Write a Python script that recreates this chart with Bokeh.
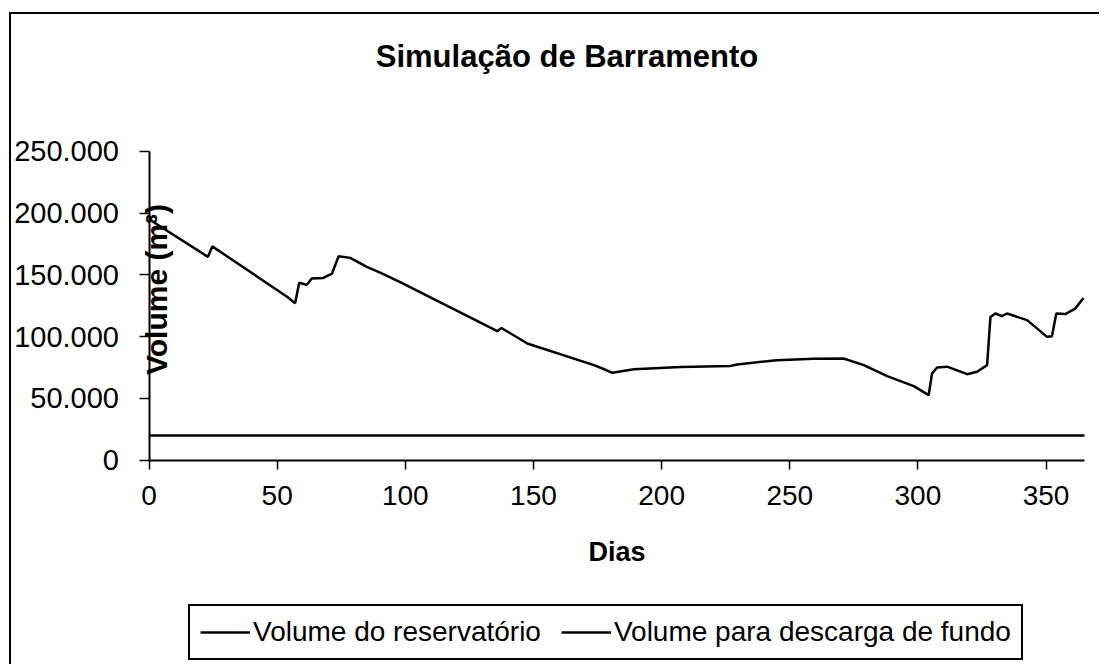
import math
from bokeh.plotting import figure
from bokeh.models import FixedTicker, Legend, LegendItem, Label, Range1d
from bokeh.embed import file_html
from bokeh.resources import INLINE

# ---------------- data ----------------
title_text = "Simulação de Barramento"
x_axis_title = "Dias"
y_axis_title = "Volume (m³)"
series_names = ["Volume do reservatório", "Volume para descarga de fundo"]

days = [0, 23, 24.7, 54, 57, 58.6, 61.6, 63.5, 68, 71.4, 74, 78.5, 85, 90.4, 98,
        135.9, 137.5, 147.6, 173.6, 176.9, 180.8, 189.2, 207.4, 226.9, 229.5, 245,
        259.4, 271, 278.9, 288, 298.4, 304.2, 305.5, 307.5, 311.4, 319.2, 323.1, 327,
        328.3, 330.2, 332.8, 334.8, 342.6, 350.4, 352.3, 354, 357.5, 361.4, 364.6]
reservoir_volume = [195000, 164500, 173000, 132000, 127000, 143500, 142000, 147000,
                    147500, 151000, 165000, 163700, 156400, 151500, 144000,
                    104400, 107000, 94400, 76900, 74200, 70700, 73600, 75500, 76300,
                    77400, 80900, 82000, 82300, 76900, 68000, 59900, 52600, 70100,
                    75000, 75700, 69600, 71500, 76900, 115900, 118700, 116500, 118700,
                    113300, 99800, 100300, 118700, 118200, 122700, 131300]

discharge_days = [0, 365]
discharge_volume = [20000, 20000]

x_ticks = [0, 50, 100, 150, 200, 250, 300, 350]
y_ticks = [0, 50000, 100000, 150000, 200000, 250000]
y_tick_labels = ["0", "50.000", "100.000", "150.000", "200.000", "250.000"]
x_bounds = (0, 365)
y_bounds = (0, 250000)

FONT = "Liberation Sans"

# ---------------- figure ----------------
# The plotting frame covers the whole canvas so that the title, the legend and the
# overlapping y-axis title can be drawn like the original; the axes sit at fixed
# locations (x = 0, y = 0) with bounds limited to the data extent.
W, H = 1100, 665
px_per_day = (1084 - 148.5) / 365.0
px_per_unit = (459.7 - 150.7) / 250000.0
x_start = -148.5 / px_per_day
x_end = (W - 148.5) / px_per_day
y_end = 250000 + 150.7 / px_per_unit
y_start = -(H - 459.7) / px_per_unit

p = figure(width=W, height=H, output_backend="svg", toolbar_location=None,
           x_range=Range1d(x_start, x_end), y_range=Range1d(y_start, y_end),
           min_border=0, min_border_left=0, min_border_right=0,
           min_border_top=0, min_border_bottom=0)
p.outline_line_color = None
p.grid.visible = False
p.background_fill_alpha = 0
p.border_fill_alpha = 0
# chart-area border (left and top edges) drawn as the page background behind the canvas
p.styles = {
    "background-color": "white",
    "background-image": "linear-gradient(black, black), linear-gradient(black, black)",
    "background-size": "2px calc(100% - 13px), calc(100% - 10px) 2px",
    "background-position": "9px 12px, 9px 12px",
    "background-repeat": "no-repeat",
}

r1 = p.line(days, reservoir_volume, line_color="black", line_width=2.5)
r2 = p.line(discharge_days, discharge_volume, line_color="black", line_width=2.5)

p.xaxis.fixed_location = 0
p.yaxis.fixed_location = 0
p.xaxis.bounds = x_bounds
p.yaxis.bounds = y_bounds
p.xaxis.ticker = FixedTicker(ticks=x_ticks)
p.yaxis.ticker = FixedTicker(ticks=y_ticks)
p.yaxis.major_label_overrides = {t: l for t, l in zip(y_ticks, y_tick_labels)}

for ax in (p.xaxis[0], p.yaxis[0]):
    ax.axis_line_width = 2
    ax.axis_line_color = "black"
    ax.major_tick_line_width = 1.5
    ax.major_tick_line_color = "black"
    ax.major_tick_in = 0
    ax.minor_tick_line_color = None
    ax.major_label_text_font = FONT
    ax.major_label_text_color = "black"

p.yaxis.major_label_text_font_size = "29px"
p.xaxis.major_label_text_font_size = "28px"
p.yaxis.major_tick_out = 10
p.yaxis.major_label_standoff = 20
p.xaxis.major_tick_out = 9
p.xaxis.major_label_standoff = 17

p.xaxis.axis_label = x_axis_title
p.xaxis.axis_label_text_font = FONT
p.xaxis.axis_label_text_font_size = "27px"
p.xaxis.axis_label_text_font_style = "bold"
p.xaxis.axis_label_text_color = "black"
p.xaxis.axis_label_standoff = 28

# title
p.add_layout(Label(x=566.5, y=H - 56, x_units="screen", y_units="screen",
                   text=title_text, text_align="center", text_baseline="alphabetic",
                   text_font=FONT, text_font_style="bold", text_font_size="31px",
                   text_color="black"))

# y axis title, sitting over the plot next to the axis as in the original
p.add_layout(Label(x=156, y=H - 289, x_units="screen", y_units="screen",
                   text=y_axis_title, angle=math.pi / 2, text_align="center",
                   text_baseline="middle", text_font=FONT, text_font_style="bold",
                   text_font_size="30px", text_color="black"))

legend = Legend(items=[LegendItem(label=series_names[0], renderers=[r1]),
                       LegendItem(label=series_names[1], renderers=[r2])],
                orientation="horizontal", location=(188, H - 660), padding=10,
                spacing=20, glyph_width=50, glyph_height=20, label_standoff=3,
                margin=0, label_text_font=FONT, label_text_font_size="28px",
                label_text_color="black",
                border_line_color="black", border_line_width=2, border_line_alpha=1,
                background_fill_color="white", background_fill_alpha=1)
p.add_layout(legend, "center")

open("out.html", "w").write(file_html(p, INLINE))
